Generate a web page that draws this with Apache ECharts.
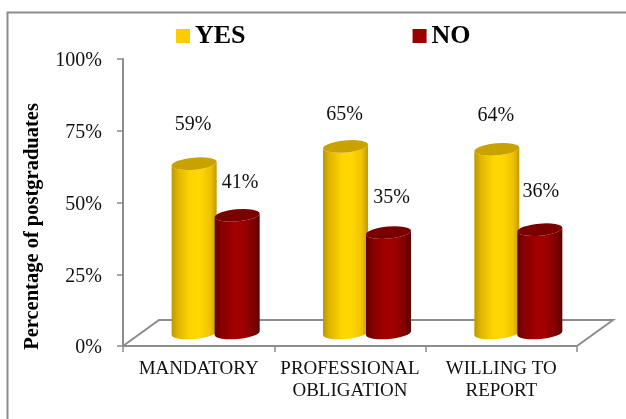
<!DOCTYPE html>
<html><head><meta charset="utf-8">
<style>html,body{margin:0;padding:0;background:#fff}#c{width:626px;height:419px}</style>
<script src="https://cdn.jsdelivr.net/npm/echarts@6/dist/echarts.min.js"></script>
</head><body><div id="c"></div>
<script>
const categories = ['MANDATORY', 'PROFESSIONAL\nOBLIGATION', 'WILLING TO\nREPORT'];
const yesValues = [59, 65, 64];
const noValues = [41, 35, 36];
const yesLabelLift = [39, 32, 34];
const noLabelLift = [33, 35, 38];
const noLabelShift = [4, 4, 2];
const yesLabelShift = [0, 0, 0];

const FONT = '"Liberation Serif","Times New Roman",serif';
const GREY = '#8c8c8c';
const chart = echarts.init(document.getElementById('c'), null, {renderer: 'canvas'});

function cylinder(lifts, shifts, dx, stops, topColor) {
  return function (params, api) {
    const i = params.dataIndex;
    const top = api.coord([i, api.value(1)]);
    const base = api.coord([i, 0]);
    const cx = base[0] + 17 + dx, rx = 22.5, ry = 6, t = 2;
    const yB = base[1] - 13, yT = top[1] - 13;
    const xl = cx - rx, xr = cx + rx;
    const arc = `A ${rx} ${ry} -5 0 1`;
    const arcBack = `A ${rx} ${ry} -5 0 0`;
    const body = `M ${xl} ${yT + t} L ${xl} ${yB + t} ${arcBack} ${xr} ${yB - t} L ${xr} ${yT - t} ${arc} ${xl} ${yT + t} Z`;
    const cap = `M ${xl} ${yT + t} ${arc} ${xr} ${yT - t} ${arc} ${xl} ${yT + t} Z`;
    const fill = new echarts.graphic.LinearGradient(0, 0, 1, 0, stops);
    return {type: 'group', children: [
      {type: 'path', shape: {pathData: body}, style: {fill: fill}},
      {type: 'path', shape: {pathData: cap}, style: {fill: topColor}},
      {type: 'text', style: {text: api.value(1) + '%', x: cx - 1 + shifts[i], y: yT - lifts[i],
        font: '20px ' + FONT, fill: '#111', textAlign: 'center', textVerticalAlign: 'middle'}}
    ]};
  };
}

const yesStops = [{offset: 0, color: '#bb9700'}, {offset: 0.14, color: '#e0b500'}, {offset: 0.42, color: '#ffd500'}, {offset: 0.62, color: '#ffd800'}, {offset: 0.86, color: '#efc200'}, {offset: 1, color: '#bf9a00'}];
const noStops = [{offset: 0, color: '#640000'}, {offset: 0.16, color: '#880000'}, {offset: 0.45, color: '#a30000'}, {offset: 0.62, color: '#a00000'}, {offset: 0.86, color: '#800000'}, {offset: 1, color: '#5a0000'}];

chart.setOption({
  animation: false,
  backgroundColor: '#fff',
  graphic: [{type: 'polyline', shape: {points: [[7.5, 419], [7.5, 12.5], [626, 12.5]]}, style: {fill: 'none', stroke: GREY, lineWidth: 2}, silent: true}],
  legend: {
    left: 171, top: 18, data: ['YES', 'NO'], selectedMode: false, icon: 'rect',
    itemWidth: 14, itemHeight: 14, itemGap: 167,
    textStyle: {fontFamily: FONT, fontWeight: 'bold', fontSize: 26, color: '#000'}
  },
  grid: {left: 123, right: 49, top: 59, bottom: 73},
  xAxis: {
    type: 'category', data: categories,
    axisLine: {lineStyle: {color: GREY, width: 2}},
    axisTick: {show: true, length: 6, lineStyle: {color: GREY, width: 1.5}},
    axisLabel: {fontFamily: FONT, fontSize: 19, color: '#111', lineHeight: 22, margin: 12, interval: 0}
  },
  yAxis: {
    type: 'value', min: 0, max: 100, interval: 25,
    name: 'Percentage of postgraduates', nameLocation: 'middle', nameGap: 80, nameRotate: 90,
    nameTextStyle: {fontFamily: FONT, fontWeight: 'bold', fontSize: 20.5, color: '#000', padding: [0, 48, 0, 0]},
    axisLine: {show: true, lineStyle: {color: GREY, width: 2}},
    axisTick: {show: true, length: 6, lineStyle: {color: GREY, width: 1.5}},
    splitLine: {show: false},
    axisLabel: {fontFamily: FONT, fontSize: 20, color: '#111', formatter: '{value}%', margin: 21, verticalAlign: 'top', lineHeight: 4}
  },
  series: [
    {type: 'custom', name: 'floor', silent: true, data: [[0, 0]], z: 1, clip: false,
     renderItem: function (params, api) {
       const o = api.coord([0, 0]);
       const w = params.coordSys.width, x0 = params.coordSys.x, y0 = o[1];
       return {type: 'polyline', shape: {points: [[x0, y0], [x0 + 36, y0 - 26], [x0 + w + 36, y0 - 26], [x0 + w, y0]]},
         style: {fill: 'none', stroke: GREY, lineWidth: 2}};
     }},
    {type: 'custom', name: 'YES', itemStyle: {color: '#ffcc00'}, z: 2, clip: false,
     data: yesValues.map((v, i) => [i, v]), encode: {x: 0, y: 1},
     renderItem: cylinder(yesLabelLift, yesLabelShift, -21.5, yesStops, '#c9a200')},
    {type: 'custom', name: 'NO', itemStyle: {color: '#990000'}, z: 3, clip: false,
     data: noValues.map((v, i) => [i, v]), encode: {x: 0, y: 1},
     renderItem: cylinder(noLabelLift, noLabelShift, 21.5, noStops, '#7a0000')}
  ]
});
</script></body></html>
